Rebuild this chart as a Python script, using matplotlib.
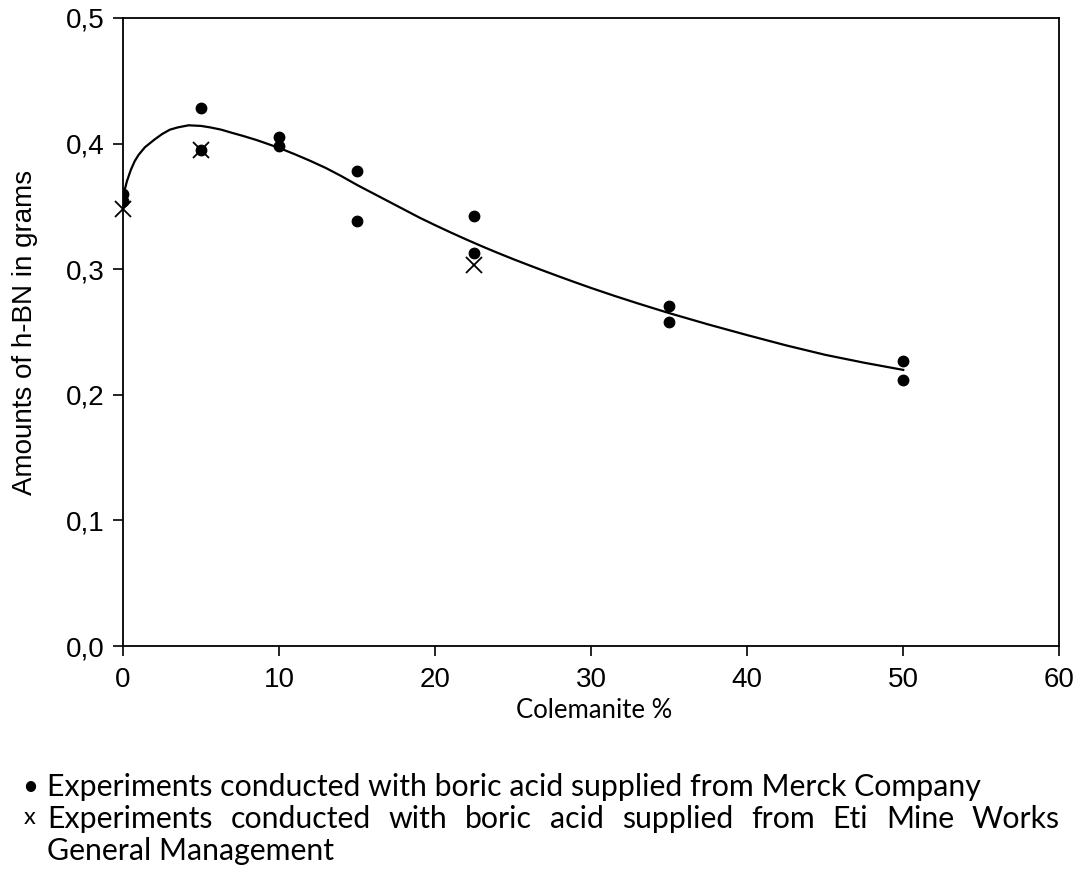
import matplotlib
matplotlib.use("Agg")
import matplotlib.pyplot as plt
from matplotlib.ticker import FuncFormatter

# Merck boric acid experiments (dots)
merck_x = [0, 0, 5, 5, 10, 10, 15, 15, 22.5, 22.5, 35, 35, 50, 50]
merck_y = [0.360, 0.354, 0.428, 0.395, 0.405, 0.398, 0.378, 0.338,
           0.342, 0.313, 0.271, 0.258, 0.227, 0.212]

# Eti Mine boric acid experiments (crosses)
eti_x = [0, 5, 22.5]
eti_y = [0.348, 0.395, 0.303]

# fitted curve
fit_x = [0.0, 0.25, 0.5, 0.75, 1.0, 1.4, 2.0, 2.5, 3.0, 3.5, 4.2, 5.0,
         5.6, 6.3, 6.9, 7.7, 8.5, 9.2, 10, 11, 12, 13, 14, 15, 16, 17, 18,
         19, 20, 21, 22, 23, 24, 25, 26, 27, 28, 29, 30, 31.5, 33, 35,
         37.5, 40, 42.5, 45, 47.5, 50]
fit_y = [0.358, 0.370, 0.379, 0.386, 0.391, 0.397, 0.403, 0.4075, 0.411,
         0.4128, 0.4145, 0.4140, 0.4128, 0.411, 0.4088, 0.406, 0.403,
         0.4000, 0.3965, 0.3915, 0.3862, 0.3805, 0.3740, 0.3670, 0.3605,
         0.3540, 0.3475, 0.3410, 0.3350, 0.3292, 0.3236, 0.3182, 0.3130,
         0.3080, 0.3032, 0.2985, 0.2939, 0.2894, 0.2850, 0.2787, 0.2727,
         0.2650, 0.2560, 0.2475, 0.2393, 0.2318, 0.2255, 0.2198]

x_ticks = [0, 10, 20, 30, 40, 50, 60]
y_ticks = [0.0, 0.1, 0.2, 0.3, 0.4, 0.5]

legend_lines = [
    "Experiments conducted with boric acid supplied from Merck Company",
    "Experiments conducted with boric acid supplied from Eti Mine Works",
    "General Management",
]

plt.rcParams["font.family"] = ["Liberation Sans", "DejaVu Sans"]

fig = plt.figure(figsize=(10.83, 8.81), dpi=100)
ax = fig.add_axes([0.1136, 0.2667, 0.8645, 0.713])

ax.plot(fit_x, fit_y, color="black", lw=1.6, zorder=2)
ax.plot(merck_x, merck_y, "o", color="black", ms=7.5, zorder=3)
ax.plot(eti_x, eti_y, "x", color="black", ms=11, mew=1.3, zorder=4,
        clip_on=False)

ax.set_xlim(0, 60)
ax.set_ylim(0, 0.5)
ax.set_xticks(x_ticks)
ax.set_yticks(y_ticks)
ax.yaxis.set_major_formatter(FuncFormatter(lambda v, p: f"{v:.1f}".replace(".", ",")))
ax.tick_params(direction="out", length=7, width=1.2, labelsize=20)
ax.tick_params(axis="x", pad=8)
ax.tick_params(axis="y", pad=6)
for s in ax.spines.values():
    s.set_linewidth(1.3)

ax.set_ylabel("Amounts of h-BN in grams", fontsize=20, labelpad=20)

leg_font = ["Lato", "DejaVu Sans"]
fig.text(594 / 1083, 1 - 710 / 881, "Colemanite %", fontsize=18.5,
         family=leg_font, ha="center", va="center")

# legend block, second line justified to the right edge
left_px, right_px = 47, 1060
ys = [787, 819, 851]
fig.text(22 / 1083, 1 - ys[0] / 881, "\u2022", fontsize=20, family=leg_font,
         va="center")
fig.text(24 / 1083, 1 - (ys[1] - 2) / 881, "x", fontsize=17, family=leg_font,
         va="center")
fig.text(left_px / 1083, 1 - ys[0] / 881, legend_lines[0], fontsize=21.8,
         family=leg_font, va="center")
fig.text(left_px / 1083, 1 - ys[2] / 881, legend_lines[2], fontsize=21.8,
         family=leg_font, va="center")

renderer = fig.canvas.get_renderer()
words = legend_lines[1].split()
arts = [fig.text(0, 1 - ys[1] / 881, w, fontsize=21.8, family=leg_font,
                 va="center") for w in words]
widths = [a.get_window_extent(renderer).width for a in arts]
gap = (right_px - left_px - sum(widths)) / (len(words) - 1)
xpos = left_px
for a, w in zip(arts, widths):
    a.set_x(xpos / 1083)
    xpos += w + gap

fig.savefig("out.png", dpi=100)
